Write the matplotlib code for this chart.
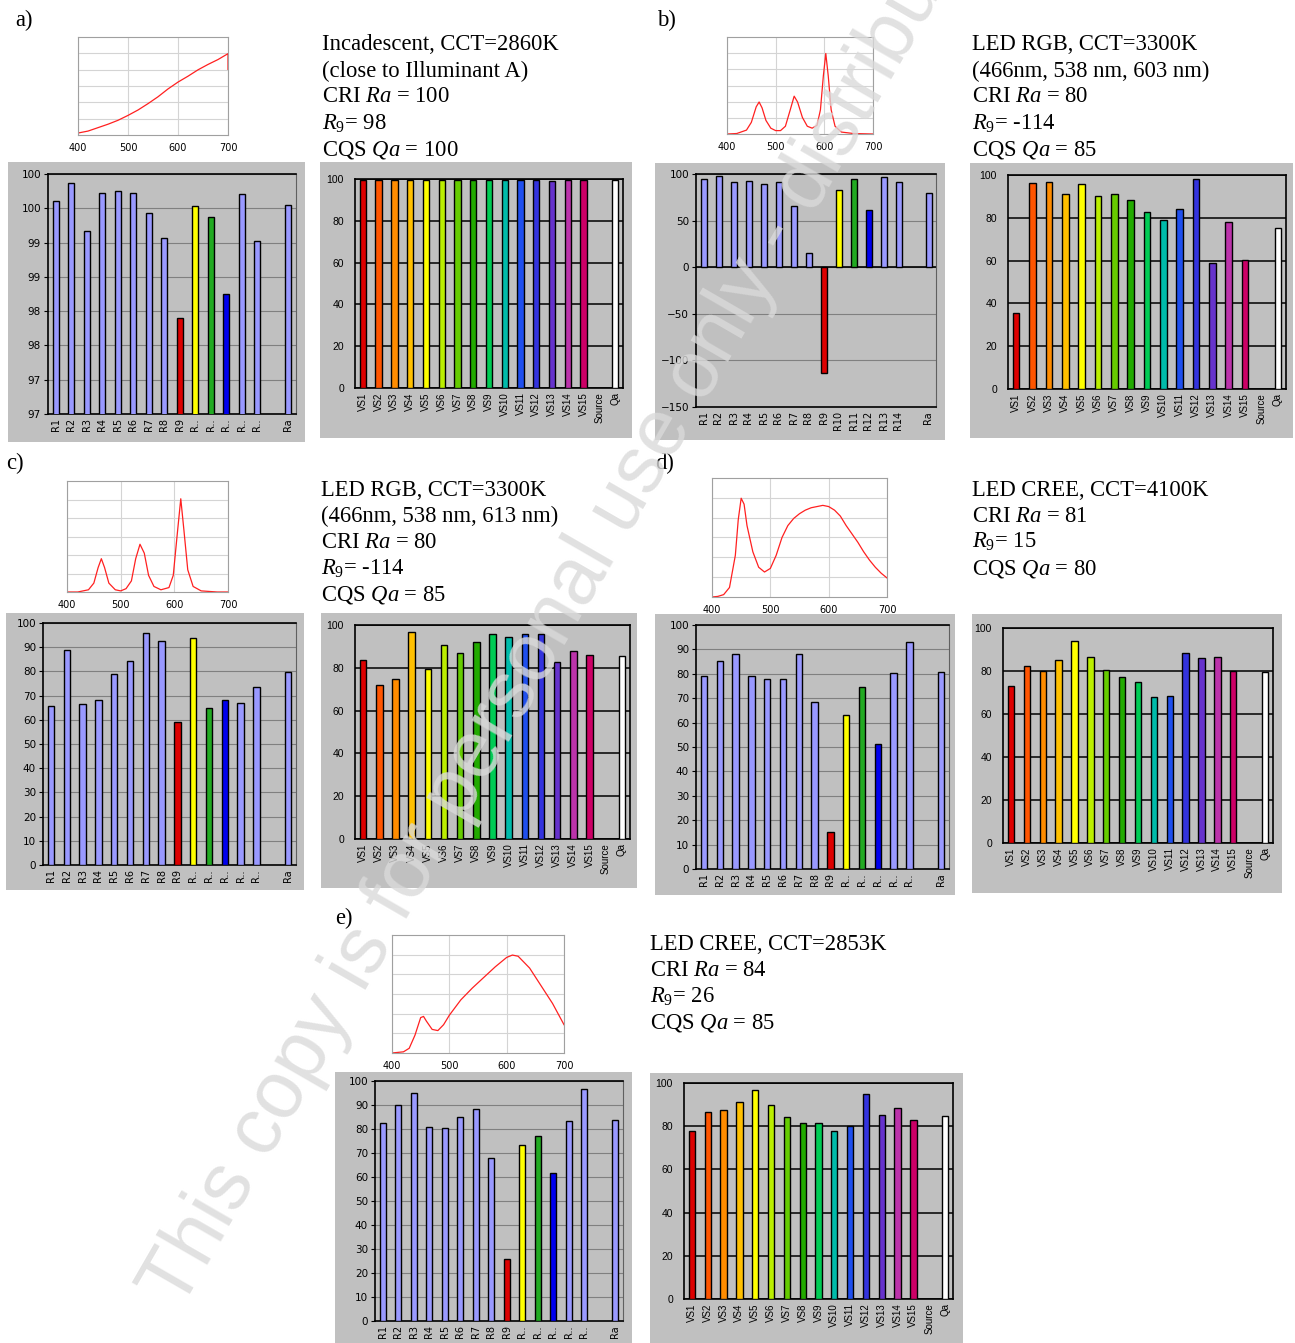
import matplotlib
matplotlib.use('Agg')
import matplotlib.pyplot as plt
from matplotlib.patches import Rectangle

plt.rcParams['mathtext.fontset'] = 'custom'
plt.rcParams['mathtext.rm'] = 'Liberation Serif'
plt.rcParams['mathtext.it'] = 'Liberation Serif:italic'

# ---------------- data ----------------
cri_labels_short = ['R1', 'R2', 'R3', 'R4', 'R5', 'R6', 'R7', 'R8', 'R9',
                    'R..', 'R..', 'R..', 'R..', 'R..', 'Ra']
cri_labels_full = ['R1', 'R2', 'R3', 'R4', 'R5', 'R6', 'R7', 'R8', 'R9',
                   'R10', 'R11', 'R12', 'R13', 'R14', 'Ra']
cqs_labels = ['VS1', 'VS2', 'VS3', 'VS4', 'VS5', 'VS6', 'VS7', 'VS8', 'VS9',
              'VS10', 'VS11', 'VS12', 'VS13', 'VS14', 'VS15', 'Source', 'Qa']

a_cri = [99.91, 100.17, 99.47, 100.03, 100.05, 100.02, 99.73, 99.36, 98.2,
         99.83, 99.68, 98.55, 100.01, 99.32, 99.85]
b_cri = [95, 97.5, 91.4, 92.5, 88.9, 91.4, 65.6, 15.4, -114,
         82.4, 95, 61, 96.8, 91.4, 80]
c_cri = [65.6, 89, 66.6, 68.1, 78.8, 84.3, 95.9, 92.6, 59.1,
         93.8, 64.9, 68.1, 67.1, 73.6, 79.8]
d_cri = [79.2, 85.1, 88, 79.2, 77.7, 77.7, 88, 68.3, 15.2,
         63.1, 74.7, 51.2, 80.3, 93, 80.9]
e_cri = [82.4, 90, 95.1, 81, 80.6, 84.9, 88.2, 68.1, 25.8,
         73.5, 76.9, 61.7, 83.3, 96.7, 83.9]

a_cqs = [99.6, 99.6, 99.6, 99.6, 99.6, 99.6, 99.6, 99.6, 99.6, 99.6,
         99.6, 99.6, 98.9, 99.6, 99.6, 99.7]
b_cqs = [35.4, 96.1, 96.7, 91.1, 95.6, 90.2, 91.1, 88.3, 82.5, 79.1,
         84.2, 98.3, 58.7, 78.2, 60.5, 75.2]
c_cqs = [83.7, 71.9, 74.8, 96.9, 79.6, 90.8, 87.1, 92.2, 95.6, 94.6,
         95.6, 95.6, 82.6, 87.9, 86, 85.5]
d_cqs = [73, 82.1, 79.8, 84.9, 94.1, 86.6, 80.5, 77, 74.8, 67.7,
         68.3, 88.4, 86.1, 86.7, 79.8, 79.6]
e_cqs = [77.7, 86.7, 87.5, 91.3, 96.9, 89.8, 84.1, 81.7, 81.3, 77.7,
         79.9, 94.9, 85.3, 88.5, 82.8, 84.7]

a_cri_yticks = [96.8, 97.3, 97.8, 98.3, 98.8, 99.3, 99.8, 100.3]
a_cri_yticklabels = ['97', '97', '98', '98', '99', '99', '100', '100']

# spectra (relative power)
a_wl = [400, 420, 440, 460, 480, 500, 520, 540, 560, 580, 600, 620, 640, 660, 680, 700, 700]
a_sp = [0.02, 0.04, 0.075, 0.11, 0.15, 0.2, 0.255, 0.32, 0.39, 0.47, 0.54, 0.6,
        0.665, 0.72, 0.77, 0.83, 0.67]
b_wl = [400, 420, 440, 450, 460, 466, 472, 480, 490, 500, 510, 520, 530, 538, 545,
        555, 565, 575, 585, 592, 598, 603, 608, 614, 622, 635, 660, 700]
b_sp = [0.0, 0.005, 0.04, 0.12, 0.28, 0.33, 0.27, 0.14, 0.06, 0.035, 0.035, 0.08,
        0.25, 0.39, 0.33, 0.17, 0.08, 0.06, 0.09, 0.25, 0.6, 0.83, 0.6, 0.25,
        0.08, 0.02, 0.005, 0.0]
c_wl = [400, 420, 440, 450, 458, 464, 470, 478, 490, 500, 510, 520, 528, 536, 544,
        552, 562, 575, 590, 598, 605, 612, 618, 625, 635, 650, 680, 700]
c_sp = [0.0, 0.0, 0.02, 0.08, 0.22, 0.3, 0.22, 0.08, 0.02, 0.01, 0.03, 0.1,
        0.3, 0.43, 0.35, 0.15, 0.05, 0.02, 0.04, 0.15, 0.5, 0.84, 0.55, 0.2,
        0.05, 0.01, 0.0, 0.0]
d_wl = [400, 410, 420, 430, 440, 445, 450, 455, 460, 470, 480, 490, 500, 510, 520,
        530, 540, 550, 560, 570, 580, 590, 600, 610, 620, 630, 640, 650, 660, 670,
        680, 690, 700]
d_sp = [0.0, 0.005, 0.02, 0.08, 0.35, 0.65, 0.83, 0.78, 0.6, 0.38, 0.25, 0.21,
        0.24, 0.35, 0.5, 0.6, 0.66, 0.7, 0.73, 0.75, 0.76, 0.77, 0.76, 0.73, 0.68,
        0.6, 0.53, 0.46, 0.38, 0.31, 0.25, 0.2, 0.16]
e_wl = [400, 420, 430, 440, 450, 455, 460, 470, 480, 490, 500, 520, 540, 560, 580,
        600, 610, 620, 640, 660, 680, 700]
e_sp = [0.0, 0.01, 0.04, 0.15, 0.3, 0.31, 0.27, 0.2, 0.19, 0.24, 0.32, 0.45,
        0.55, 0.64, 0.73, 0.81, 0.83, 0.82, 0.72, 0.57, 0.42, 0.24]

spec_ticks = [400, 500, 600, 700]

# ---------------- styling ----------------
W, H = 1295, 1343
GRAY = '#c0c0c0'
CRI_BLUE = '#9999ff'
cri_colors = [CRI_BLUE] * 8 + ['#dd0000', '#ffff00', '#22aa22', '#0000ee',
                               CRI_BLUE, CRI_BLUE, CRI_BLUE]
cri_pos = list(range(14)) + [15]
cqs_colors = ['#dd0000', '#ff5500', '#ff8c00', '#ffc000', '#ffff00', '#bbee00',
              '#66cc00', '#22aa00', '#00cc55', '#00bbaa', '#1f4fee', '#3333dd',
              '#6633cc', '#bb33aa', '#cc0066', '#ffffff']
cqs_pos = list(range(15)) + [16]

fig = plt.figure(figsize=(W / 100, H / 100), dpi=100)
fig.patch.set_facecolor('white')


def px_axes(x0, y0, x1, y1):
    return fig.add_axes([x0 / W, 1 - y1 / H, (x1 - x0) / W, (y1 - y0) / H])


def bg(x0, y0, x1, y1):
    fig.add_artist(Rectangle((x0 / W, 1 - y1 / H), (x1 - x0) / W, (y1 - y0) / H,
                             transform=fig.transFigure, facecolor=GRAY,
                             edgecolor='none', zorder=-1))


def ftext(x, y, s, **kw):
    fig.text(x / W, 1 - y / H, s, **kw)


def spectrum(box, wl, sp):
    ax = px_axes(*box)
    ax.plot(wl, sp, color='#ff2020', lw=0.9)
    ax.set_xlim(400, 700)
    ax.set_ylim(0, 1)
    ax.set_xticks(spec_ticks)
    ax.set_xticklabels([str(t) for t in spec_ticks], fontsize=7,
                       family='DejaVu Sans')
    ax.set_yticks([i / 6 for i in range(1, 6)])
    ax.set_yticklabels([])
    ax.tick_params(length=0, pad=6)
    ax.grid(True, color='#d4d4d4', lw=0.8)
    ax.set_axisbelow(True)
    for s in ax.spines.values():
        s.set_color('#a0a0a0')
        s.set_linewidth(0.8)


def cri_chart(plot_box, bg_box, vals, labels, ylim, yticks, yticklabels=None,
              zero_line=False):
    bg(*bg_box)
    ax = px_axes(*plot_box)
    ax.set_facecolor(GRAY)
    ax.bar(cri_pos, vals, width=0.4, color=cri_colors, edgecolor='black',
           linewidth=1.0, zorder=3)
    ax.set_xlim(-0.5, 15.5)
    ax.set_ylim(*ylim)
    ax.set_yticks(yticks)
    if yticklabels is not None:
        ax.set_yticklabels(yticklabels)
    ax.set_xticks(cri_pos)
    ax.set_xticklabels(labels, rotation=90, fontsize=7, family='DejaVu Sans')
    for lab in ax.get_yticklabels():
        lab.set_family('DejaVu Sans')
    ax.yaxis.grid(True, color='#808080', lw=0.8)
    ax.set_axisbelow(True)
    ax.tick_params(axis='x', length=0, pad=3)
    ax.tick_params(axis='y', length=3, pad=2, labelsize=7.5)
    if zero_line:
        ax.axhline(0, color='black', lw=1.2, zorder=2)
    for s in ax.spines.values():
        s.set_color('black')
        s.set_linewidth(1.2)
    ax.spines['right'].set_color('#606060')
    ax.spines['right'].set_linewidth(0.8)


def cqs_chart(plot_box, bg_box, vals):
    bg(*bg_box)
    ax = px_axes(*plot_box)
    ax.set_facecolor(GRAY)
    ax.bar(cqs_pos, vals, width=0.4, color=cqs_colors, edgecolor='black',
           linewidth=1.0, zorder=3)
    ax.set_xlim(-0.5, 16.5)
    ax.set_ylim(0, 100)
    ax.set_yticks([0, 20, 40, 60, 80, 100])
    ax.set_xticks(range(17))
    ax.set_xticklabels(cqs_labels, rotation=90, fontsize=7,
                       family='Liberation Sans')
    for lab in ax.get_yticklabels():
        lab.set_family('Liberation Sans')
    ax.yaxis.grid(True, color='black', lw=1.1)
    ax.set_axisbelow(True)
    ax.tick_params(axis='x', length=0, pad=3)
    ax.tick_params(axis='y', length=0, pad=8, labelsize=7.5)
    for s in ax.spines.values():
        s.set_color('black')
        s.set_linewidth(1.2)


TXT = dict(family='Liberation Serif', fontsize=16.3, va='center', ha='left')


def text_block(x, ys, lines):
    for y, s in zip(ys, lines):
        ftext(x, y, s, **TXT)


# ---------------- panel a ----------------
ftext(15, 20, 'a)', **TXT)
spectrum((78, 37, 228, 135), a_wl, a_sp)
text_block(322, [45, 71, 97, 124, 150],
           ['Incadescent, CCT=2860K', '(close to Illuminant A)',
            r'CRI $Ra$ = 100', r'$R_9$= 98', r'CQS $Qa$ = 100'])
cri_chart((48, 174, 296, 414), (8, 162, 305, 442), a_cri, cri_labels_short,
          (96.8, 100.3), a_cri_yticks, a_cri_yticklabels)
cqs_chart((355, 179, 623, 388), (320, 162, 632, 438), a_cqs)

# ---------------- panel b ----------------
ftext(657, 20, 'b)', **TXT)
spectrum((727, 37, 873, 134), b_wl, b_sp)
text_block(972, [45, 71, 97, 124, 150],
           ['LED RGB, CCT=3300K', '(466nm, 538 nm, 603 nm)',
            r'CRI $Ra$ = 80', r'$R_9$= -114', r'CQS $Qa$ = 85'])
cri_chart((696, 174, 936, 407), (655, 163, 945, 440), b_cri, cri_labels_full,
          (-150, 100), [-150, -100, -50, 0, 50, 100], zero_line=True)
cqs_chart((1008, 175, 1286, 389), (970, 163, 1293, 438), b_cqs)

# ---------------- panel c ----------------
ftext(6, 463, 'c)', **TXT)
spectrum((67, 481, 228, 592), c_wl, c_sp)
text_block(321, [490, 516, 542, 569, 595],
           ['LED RGB, CCT=3300K', '(466nm, 538 nm, 613 nm)',
            r'CRI $Ra$ = 80', r'$R_9$= -114', r'CQS $Qa$ = 85'])
cri_chart((43, 623, 296, 865), (6, 613, 304, 890), c_cri, cri_labels_short,
          (0, 100), list(range(0, 101, 10)))
cqs_chart((355, 625, 630, 839), (321, 613, 637, 888), c_cqs)

# ---------------- panel d ----------------
ftext(655, 463, 'd)', **TXT)
spectrum((712, 478, 887, 597), d_wl, d_sp)
text_block(972, [490, 516, 542, 569],
           ['LED CREE, CCT=4100K', r'CRI $Ra$ = 81', r'$R_9$= 15',
            r'CQS $Qa$ = 80'])
cri_chart((696, 625, 949, 869), (655, 614, 955, 895), d_cri, cri_labels_short,
          (0, 100), list(range(0, 101, 10)))
cqs_chart((1003, 628, 1273, 843), (972, 614, 1282, 893), d_cqs)

# ---------------- panel e ----------------
ftext(335, 918, 'e)', **TXT)
spectrum((392, 935, 564, 1053), e_wl, e_sp)
text_block(650, [944, 970, 997, 1023],
           ['LED CREE, CCT=2853K', r'CRI $Ra$ = 84', r'$R_9$= 26',
            r'CQS $Qa$ = 85'])
cri_chart((375, 1081, 623, 1321), (335, 1072, 632, 1350), e_cri, cri_labels_short,
          (0, 100), list(range(0, 101, 10)))
cqs_chart((684, 1083, 953, 1299), (650, 1073, 963, 1350), e_cqs)

# ---------------- watermark ----------------
fig.text(180 / W, 1 - 1312 / H,
         'This copy is for personal use only - distribution prohibited.',
         rotation=60, rotation_mode='anchor', ha='left', va='baseline',
         fontsize=58, family='Liberation Sans', color='#dadada', alpha=0.8,
         zorder=20)

fig.savefig('out.png', dpi=100)
